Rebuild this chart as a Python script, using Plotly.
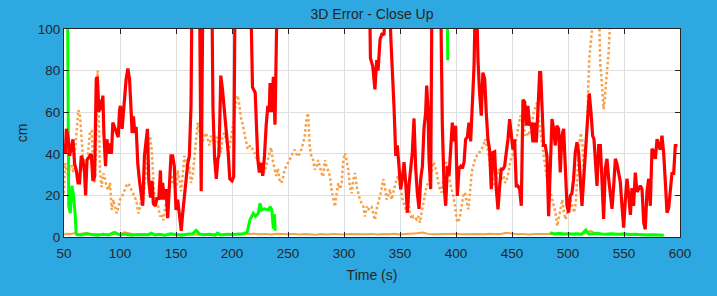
import plotly.graph_objects as go

# ---- data ----
red_t = [50, 51.2, 52.1, 53.6, 55.0, 56.5, 58.0, 59.5, 61.0, 62.5, 63.9, 65.4, 66.9, 68.4, 69.3, 70.5, 72.8, 74.3,
         75.8, 77.3, 78.8, 79.7, 81.2, 82.3, 83.5, 84.7, 85.6, 87.1, 88.3, 89.8, 91.2, 92.4, 93.6, 95.1, 96.6, 98.4,
         99.6, 100.4, 101.9, 103.1, 104.3, 105.5, 107.0, 108.5, 109.9, 110.8, 112.0, 113.2, 114.4, 115.9, 117.4,
         118.8, 120.3, 121.8, 123.3, 124.5, 125.7, 127.2, 128.6, 129.8, 131.6, 133.1, 134.6, 136.1, 136.9, 138.1,
         139.6, 141.1, 142.6, 144.1, 145.5, 147.0, 148.5, 150.0, 151.5, 153.0, 154.7, 155.9, 157.4, 158.9, 160.4,
         161.9, 163.4, 164.8, 170.5, 172.5, 174.5, 181.5, 183, 184.5, 186, 187.4, 188.2, 189, 190, 191.5, 193, 195,
         196.6, 198, 200, 201.5, 203.2, 215.5, 218.3, 220.7, 222, 223, 224.4, 226, 227.4, 229, 230.5, 232, 233.2,
         234, 235.4, 236.9, 238.4, 239.8, 241.3, 322, 323.6, 325.7, 327.6, 329.2, 330.4, 332.2, 334.2, 335.7, 337.2,
         340.2, 341.7, 343.2, 344.7, 346.2, 347.6, 349.1, 350.6, 352.1, 353.6, 355.1, 356.6, 358.1, 359.5, 361,
         362.5, 364, 365.5, 367, 368.5, 370, 371.4, 372.9, 373.8, 375, 375.9, 377.4, 378.9, 385.5, 387.8, 389.3,
         390.8, 392.3, 393.8, 395.3, 396.7, 398.2, 399.7, 401.2, 402.7, 404.2, 405.7, 407.2, 408.6, 410.1, 411.6,
         413.1, 414.6, 416.1, 417.8, 419.6, 421, 422.6, 424, 425.6, 427, 428.5, 430, 431.5, 433, 434.5, 436, 437.5,
         439, 440.4, 441.9, 443.4, 444.9, 446.4, 447.9, 449.4, 450.8, 452.3, 453.8, 455.3, 456.8, 458.3, 459.8,
         461.3, 462.8, 464.2, 465.7, 467.2, 468.7, 470.2, 471.7, 473.2, 474.7, 475.6, 476.7, 478.2, 479.7, 481.2,
         482.7, 484.2, 485.7, 487.2, 488.6, 490.1, 491.6, 493.1, 494.6, 496.1, 497.6, 499.1, 500.6, 502, 503.5, 505,
         506.5, 508, 509.5, 511, 512.5, 514, 515.5, 517, 519, 520.5, 522, 523.2, 524.4, 525.9, 527.4, 528.9, 530.4,
         531.8, 533.3, 534.8, 536.3, 537.8, 539.3, 540.8, 542.3, 543.8, 545.2, 546.7, 548.2, 549.7, 551.2, 552.7,
         554.2, 555.7, 557.1, 558.6, 560.1, 561.6, 563.1, 564.6, 566.1, 567.6, 569, 570.5, 572, 573.5, 575, 576.5,
         578, 579.5, 581, 582.4, 583.9, 585.4, 586.9, 588.4, 589.9, 591.4, 592.9, 594.3, 595.8, 597.8]
red_cm = [45, 40, 52, 48, 39, 44, 47, 35, 32, 26, 26, 39, 37, 31, 20, 37, 39, 40,
          27, 29, 76, 77, 60, 66, 61, 68, 50, 34, 47, 40, 45, 40, 55, 53, 50, 48,
          61, 63, 52, 61, 66, 76, 81, 76, 61, 50, 58, 50, 53, 35, 27,
          21, 15, 39, 47, 52, 27, 19, 27, 16, 15, 19, 18, 32, 18, 26,
          18, 23, 9, 27, 39, 39, 34, 13, 18, 11, 3, 11, 21, 27, 35,
          39, 63, 150, 150, 22, 150, 150, 62, 37.6, 28, 37.6, 39, 53.5, 77.6, 71, 62, 52,
          40.6, 28, 27, 29, 150, 150, 72, 69.5, 53.5, 37.6, 31, 35.6, 29.4, 39, 53.5, 63, 60,
          74, 60, 77, 54, 85, 150, 150, 86, 82, 71, 85, 80, 95, 98, 97, 150,
          150, 97, 82, 62, 39, 44, 34, 23, 28, 36, 26, 11.7, 25, 33, 40.6,
          57, 33, 21, 13.5, 28, 34, 52, 60, 72.8, 62, 37.6, 23, 150, 150, 53.5, 25,
          15, 34, 29.5, 44, 55, 46, 53.5, 19.7, 33, 34, 33, 36, 47, 48, 55,
          46, 62, 82, 130, 85.6, 69.6, 58.3, 79, 76, 60, 47, 42, 23, 40.6, 41, 23, 13.3,
          24.6, 32.6, 32.6, 34, 40.6, 47, 56.7, 47, 42, 47, 24.6, 24.6, 23, 15, 66,
          65, 53.5, 63, 53.5, 55, 45.5, 55, 45.5, 61.5, 79, 79, 63, 44, 44, 39,
          10, 29.4, 56.7, 52, 44, 53.5, 52, 31, 48.7, 52, 29.4, 15, 11.7, 19.8, 21, 27.8,
          40.6, 45.5, 40.6, 29.4, 15, 28, 40.6, 53.5, 69, 60, 48.7, 47, 37.6, 24.6, 44, 44, 26.5,
          8.7, 33, 37.6, 28, 21.7, 13.5, 24.6, 37.6, 35, 31, 26.5, 15, 4.5, 18, 28,
          20, 10.6, 23.5, 15, 31, 21.7, 23, 24.6, 23, 6.9, 3.7, 21.7, 28, 15, 42.4, 41,
          37.6, 47, 44, 42, 48.7, 40.6, 26.5, 11.7, 14, 24.6, 31, 30, 44, 44]

dot_t = [50, 50.9, 52.5, 53.9, 55.3, 56.8, 58.3, 59.8, 61.3, 62.8, 64.3, 65.8, 67.3, 68.8, 70.2, 71.7, 73.2, 74.7,
         76.2, 77.7, 79.2, 80.1, 81.2, 82.1, 83.6, 85.1, 86.6, 88.1, 89.6, 91.1, 92.6, 94, 95.5, 97, 98.5, 100,
         101.5, 103, 104.5, 106, 107.4, 108.9, 110.4, 111.9, 113.4, 114.9, 116.4, 117.9, 119.3, 120.8, 122.3,
         123.8, 125.3, 126.8, 128.3, 129.8, 131.3, 132.8, 134.2, 135.7, 137.2, 138.7, 140.2, 141.7, 143.1, 144.6,
         146.1, 147.6, 149.1, 150.5, 151.5, 153, 154.5, 156, 157.5, 159, 160.4, 161.9, 163.4, 165, 166.4, 167.9,
         169.4, 170.9, 172.3, 173.8, 175.3, 176.8, 178.3, 179.8, 181.3, 182.8, 184.3, 185.8, 187.3, 188.7, 190.2,
         191.7, 193.2, 194.7, 196.1, 197.6, 199.1, 200.6, 202.1, 203.6, 205.1, 206.6, 208.1, 209.6, 211, 212.5,
         214, 215.5, 217, 218.5, 220, 221.5, 223, 224.4, 226, 227.4, 228.9, 230.4, 231.9, 233.4, 234.9, 236.4,
         237.9, 239.4, 240.9, 242.4, 243.9, 245.4, 246.9, 248.4, 249.9, 251.4, 252.9, 254.4, 255.9, 257.4, 258.9,
         260.4, 261.9, 263.4, 264.9, 266.4, 267.9, 269.4, 270.9, 272.4, 273.9, 275.4, 276.9, 278.4, 279.9, 281.4,
         282.9, 284.4, 285.9, 287.4, 288.9, 290.4, 291.9, 293.4, 294.9, 296.4, 297.9, 299.4, 300.9, 302.3, 303.8,
         305.3, 306.8, 308.3, 309.8, 311.3, 312.7, 314.2, 315.7, 317.2, 318.7, 320.2, 321.7, 323.2, 324.6, 326.1,
         327.6, 329.1, 330.6, 332.1, 333.6, 335, 336.5, 338, 339.5, 341, 342.5, 344, 345.5, 347, 348.5, 350,
         351.4, 352.9, 354.4, 355.9, 357.4, 358.9, 360.4, 361.9, 363.3, 364.8, 366.3, 367.8, 369.3, 370.8, 372.3,
         373.8, 375.2, 376.7, 378.2, 379.7, 381.2, 382.7, 384.2, 385.7, 387.2, 388.7, 390.2, 391.6, 393.1, 394.6,
         396.1, 397.6, 399.1, 400.6, 402.1, 403.5, 405, 406.5, 408, 409.5, 411, 412.5, 414, 415.5, 417, 418.5,
         420, 421.5, 423, 424.5, 426, 427.4, 428.9, 430.4, 431.9, 433.4, 434.9, 436.4, 437.9, 439.4, 440.9,
         442.4, 443.9, 445.4, 446.9, 448.4, 449.9, 451.4, 452.9, 454.4, 455.9, 457.4, 458.9, 460.4, 461.9, 463.4,
         464.9, 466.4, 467.9, 469.4, 470.9, 472.4, 473.9, 475.4, 476.9, 478.4, 479.9, 481.4, 482.9, 484.4, 485.9,
         487.4, 488.9, 490.4, 491.9, 493.4, 494.9, 496.4, 497.9, 499.4, 500.9, 502.4, 503.9, 505.4, 506.9, 508.4,
         509.9, 511.4, 512.9, 514.2, 515.5, 517, 517.9, 519, 526.5, 527.4, 528.3, 528.9, 529.8, 530.4, 531, 531.8,
         532.7, 533.3, 534.3, 535.4, 536.3, 540]
dot_cm = [21, 35.5, 32, 29, 34, 34, 31, 40, 53, 61, 58, 45, 34, 24, 32, 40, 51, 51,
          32, 26, 60, 80, 56, 32, 24, 30.6, 28, 24, 22.7, 26, 13, 18, 14.6, 11.4, 14, 18,
          19, 21, 23, 25, 25.8, 24, 22.7, 21, 19, 16.3, 11.4, 14, 22.7, 18, 27.5,
          37, 44, 48.5, 42, 27.5, 14.6, 16, 14.6, 9.8, 11, 8, 14, 19.5, 18, 24,
          30, 26, 24, 24, 32, 28, 22, 30, 39, 36, 31, 34, 26, 30, 37, 45,
          55, 50, 44, 46, 48.7, 50, 47, 44, 48.7, 47, 44, 48, 47, 44, 40.6,
          48.7, 50, 47, 44, 42.3, 47, 53.5, 58.3, 65, 68, 63, 57, 54, 50, 47,
          42.3, 43.5, 44, 42, 40.6, 38, 39, 36, 35, 33, 31, 34, 37, 40.6, 43, 37,
          32.3, 29.3, 33, 27.5, 25.9, 28, 32.3, 34, 35.5, 37, 38.7, 40, 42, 40, 38.7,
          40, 42, 45, 48.4, 56.4, 59.6, 43.6, 38.7, 37, 32.3, 34, 37, 34, 30.7, 29,
          37, 34, 32, 29.3, 22.7, 18, 14.6, 21, 25.9, 23, 26, 37, 40.3, 37, 32.3, 24.3,
          21, 27.5, 30.7, 24.3, 21, 18, 16.3, 14.6, 9.8, 14.6, 13, 14.6, 14.6, 11.4, 8.2,
          13.3, 16.5, 19.8, 23, 27.8, 24.6, 18, 19.8, 23, 18, 21.4, 24.6, 27.8, 29.4, 24.6, 19.8,
          16.5, 15, 11.7, 18, 11.7, 8.5, 10, 9.3, 8.5, 10, 6.9, 11.7, 16.5, 19.8, 24.6,
          26, 27.8, 31, 36, 34.4, 31, 26, 23, 21.4, 27.8, 34.4, 36, 32.6, 26, 23,
          19.8, 15, 8.5, 7, 10, 15, 19.8, 21.4, 18, 13.3, 21.4, 31, 34.4, 37.4, 39, 40.6,
          41, 42.3, 44, 47, 44, 40.6, 34.2, 29.4, 26, 24.6, 29.4, 32.6, 31, 27.8,
          29.4, 26, 27.8, 31, 36, 39, 40.6, 44, 48.7, 53.5, 58.3, 56.7, 53.5, 48.7, 50,
          48.7, 52, 55, 60, 63, 64.7, 56.7, 50, 44, 37.4, 32.6, 27.8, 24.6, 21.4, 18,
          15, 11.7, 5.3, 10, 15, 18, 11.7, 8.5, 11.7, 15, 18, 15, 11.7, 16.5, 31,
          44, 50, 46, 27, 40, 53.5, 69.5, 85.6, 130, 130, 93.6, 82, 77.6, 71, 64.7, 61.5, 66,
          69.5, 74.4, 81, 89, 130, 150]

base_t = [50, 53, 56, 59, 62, 66, 70, 75, 80, 85, 90, 95, 100, 104, 108, 112, 118, 125, 132, 140, 150, 160, 170,
          180, 190, 200, 210, 215, 220, 225, 230, 235, 240, 245, 250, 255, 260, 265, 270, 275, 280, 285, 290, 295,
          300, 305, 310, 315, 320, 325, 330, 335, 340, 345, 350, 355, 360, 365, 370, 375, 380, 385, 390, 395, 400,
          405, 410, 415, 420, 425, 430, 435, 440, 445, 450, 455, 460, 465, 470, 475, 480, 485, 490, 495, 500, 505,
          510, 515, 520, 525, 530, 535, 540, 545, 550, 560, 570, 580, 585]
base_cm = [1.2, 1.6, 1.4, 1.8, 1.3, 1.5, 1.9, 1.2, 1.4, 1.1, 1.3, 1.2, 1.5, 2.3, 1.9, 1.3, 1.1, 1.4, 1.2, 1.0, 1.3,
           1.1, 1.2, 1.4, 1.1, 1.3, 1.2, 1.4, 1.6, 1.3, 1.5, 1.2, 1.6, 1.4, 1.3, 1.5, 1.2, 1.4, 1.3, 1.1, 1.4,
           1.2, 1.5, 1.3, 1.2, 1.4, 1.3, 1.1, 1.3, 1.5, 1.2, 1.4, 1.3, 1.6, 1.2, 1.4, 1.5, 1.8, 2.1, 1.5, 1.3,
           1.4, 1.2, 1.5, 1.6, 1.3, 1.4, 1.2, 1.5, 1.3, 1.6, 1.4, 1.5, 2.0, 1.6, 1.3, 1.5, 1.2, 1.4, 1.3, 1.5,
           1.6, 1.4, 1.3, 1.5, 1.2, 1.4, 1.6, 3.0, 1.6, 1.3, 1.4, 1.2, 1.3, 1.1, 1.2, 1.0, 1.1, 1.0]

green_t = [50, 52.8, 54.2, 55.6, 57.1, 58.6, 60.1, 60.8, 61.6, 65, 70, 75, 80, 85, 90, 95, 100, 105, 110, 115, 120,
           125, 128, 131, 135, 140, 145, 150, 155, 160, 165, 168, 171, 175, 180, 185, 187, 190, 195, 200, 205, 210,
           213.5, 216, 219, 221, 223.5, 225, 226.5, 229, 232.5, 234, 235.5, 236.9, 237.8, 238.6, 300, 391.3, 392.6,
           450, 484, 488, 492, 496, 500, 504, 508, 512, 516, 518.5, 522, 526, 530, 534, 538, 542, 546, 550, 555,
           560, 565, 570, 575, 580, 585.5]
green_cm = [150, 150, 15, 11.5, 24.6, 19.8, 10, 2, 1.2, 1.0, 1.5, 1.2, 0.9, 1.3, 1.0, 2.2, 1.0, 1.4, 0.8, 1.2, 1.0,
            1.1, 1.8, 1.0, 1.3, 0.9, 1.5, 1.2, 0.8, 1.3, 1.6, 3.2, 1.4, 1.1, 1.3, 0.9, 1.9, 1.0, 1.3, 1.2, 1.5, 1.6,
            2.2, 8.2, 11.4, 10, 11.4, 16.2, 13, 13.5, 13, 14.6, 13, 4, 11, 3, None, 200, 85,
            None, 2.1, 1.5, 1.8, 1.5, 1.6, 1.4, 1.6, 1.3, 3.4, 1.5, 1.6, 1.8, 1.5, 1.3, 1.6, 1.4, 1.3, 1.5, 1.2,
            1.3, 1.1, 1.0, 1.1, 1.0, 0.9]

x_ticks = [50, 100, 150, 200, 250, 300, 350, 400, 450, 500, 550, 600]
y_ticks = [0, 20, 40, 60, 80, 100]

ORANGE = "rgb(247,160,72)"
fig = go.Figure()
fig.add_trace(go.Scatter(x=dot_t, y=dot_cm, mode="lines",
                         line=dict(color=ORANGE, width=2.5, dash="2.5px,2.5px")))
fig.add_trace(go.Scatter(x=base_t, y=base_cm, mode="lines", line=dict(color=ORANGE, width=2)))
fig.add_trace(go.Scatter(x=green_t, y=green_cm, mode="lines", connectgaps=False,
                         line=dict(color="rgb(0,255,0)", width=3)))
fig.add_trace(go.Scatter(x=red_t, y=red_cm, mode="lines", line=dict(color="rgb(255,0,0)", width=3.2)))

axis_common = dict(showline=True, linecolor="#262626", linewidth=1, mirror="ticks", ticks="inside",
                   ticklen=5, tickcolor="#262626", showgrid=True, gridcolor="#DFDFDF", gridwidth=1,
                   zeroline=False, tickfont=dict(size=13.5, color="#262626"), automargin=False)
fig.update_xaxes(range=[50, 600], tickvals=x_ticks, ticktext=[str(v) for v in x_ticks],
                 ticklabelstandoff=4,
                 title=dict(text="Time (s)", font=dict(size=14, color="#262626"), standoff=9), **axis_common)
fig.update_yaxes(range=[0, 100], tickvals=y_ticks, ticktext=[str(v) for v in y_ticks],
                 title=dict(text="cm", font=dict(size=14, color="#262626"), standoff=6), **axis_common)

fig.update_layout(
    width=717, height=296,
    paper_bgcolor="rgb(46,168,224)", plot_bgcolor="white",
    margin=dict(l=64, r=37, t=29, b=59, autoexpand=False),
    showlegend=False,
    font=dict(family="Liberation Sans, Arial, sans-serif", color="#262626"),
    title=dict(text="3D Error - Close Up", x=0.5, xref="paper", xanchor="center",
               y=1 - 14 / 296, yref="container", yanchor="middle", automargin=False,
               font=dict(size=14, color="#262626")),
)
fig.write_html("out.html", config={"displayModeBar": False},
               post_script="document.body.style.margin='0';document.body.style.padding='0';"
                           "document.body.style.background='rgb(46,168,224)';")
